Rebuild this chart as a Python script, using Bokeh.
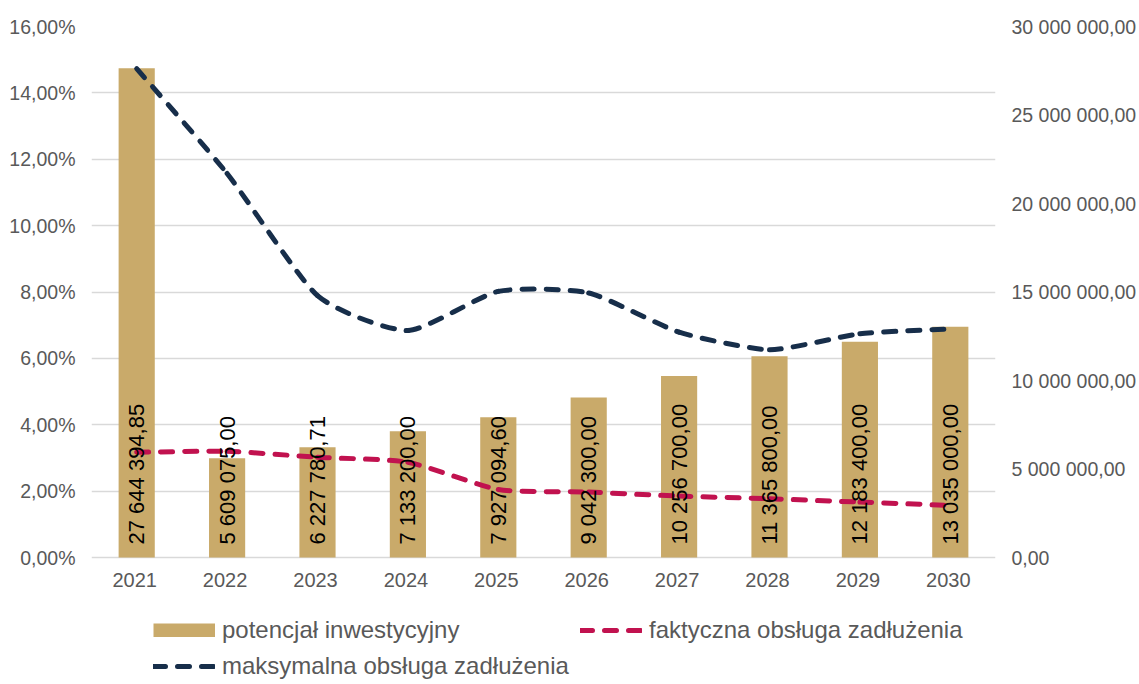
import numpy as np
from bokeh.plotting import figure
from bokeh.models import (Range1d, LinearAxis, FixedTicker, Legend, LegendItem,
                          ColumnDataSource, FactorRange)
from bokeh.core.properties import value
from bokeh.embed import file_html
from bokeh.resources import INLINE

# ---------------- data ----------------
years = ["2021", "2022", "2023", "2024", "2025", "2026", "2027", "2028", "2029", "2030"]
potencjal = [27644394.85, 5609075.00, 6227780.71, 7133200.00, 7927094.60,
             9042300.00, 10256700.00, 11365800.00, 12183400.00, 13035000.00]
faktyczna = [3.17, 3.20, 3.02, 2.87, 2.05, 1.97, 1.85, 1.77, 1.67, 1.57]
maksymalna = [14.73, 11.57, 7.89, 6.84, 8.02, 7.97, 6.79, 6.26, 6.74, 6.89]
pct_ticks = [0, 2, 4, 6, 8, 10, 12, 14, 16]
inv_ticks = [0, 5000000, 10000000, 15000000, 20000000, 25000000, 30000000]
names = ["potencjał inwestycyjny", "faktyczna obsługa zadłużenia",
         "maksymalna obsługa zadłużenia"]

# ---------------- style / layout ----------------
BAR = "#C9AA6A"
NAVY = "#172E4A"
CRIMSON = "#C1124F"
GRID = "#D9D9D9"
TXT = "#595959"
FONT = "Liberation Sans"
W, H = 1139, 684
TOP, BOTTOM_OF_AXIS = 26, 557          # pixel rows of the top and zero gridlines
EXTRA = (H - BOTTOM_OF_AXIS) / (BOTTOM_OF_AXIS - TOP)   # room below zero, as fraction


def pl_num(v):
    return f"{v:,.2f}".replace(",", " ").replace(".", ",")


pct_max = pct_ticks[-1]
inv_max = inv_ticks[-1]

p = figure(width=W, height=H, x_range=FactorRange(factors=years),
           y_range=Range1d(-pct_max * EXTRA, pct_max), output_backend="svg",
           toolbar_location=None, min_border_left=91, min_border_right=144,
           min_border_top=TOP, min_border_bottom=0, outline_line_color=None)
p.extra_y_ranges = {"inv": Range1d(-inv_max * EXTRA, inv_max)}
p.xaxis.visible = False

# left axis
ya = p.yaxis[0]
ya.ticker = FixedTicker(ticks=pct_ticks)
ya.major_label_overrides = {t: f"{t:.2f}".replace(".", ",") + "%" for t in pct_ticks}
# right axis
ra = LinearAxis(y_range_name="inv", ticker=FixedTicker(ticks=inv_ticks))
ra.major_label_overrides = {t: pl_num(t) for t in inv_ticks}
p.add_layout(ra, "right")

for ax, so in ((ya, 16), (ra, 16)):
    ax.axis_line_color = None
    ax.major_tick_line_color = None
    ax.minor_tick_line_color = None
    ax.major_tick_out = 0
    ax.major_tick_in = 0
    ax.minor_tick_out = 0
    ax.minor_tick_in = 0
    ax.major_label_text_font = FONT
    ax.major_label_text_font_size = "19.5px"
    ax.major_label_text_color = TXT
    ax.major_label_standoff = so

p.xgrid.visible = False
p.ygrid.grid_line_color = GRID
p.ygrid.grid_line_width = 1.5

# bars
src = ColumnDataSource(dict(x=years, top=potencjal,
                            lab=[pl_num(v) for v in potencjal]))
p.vbar(x="x", top="top", width=0.4, source=src, y_range_name="inv",
       fill_color=BAR, line_color=None)


# smoothed lines (Bezier segments through the data points)
def bez_source(vals, k=0.1):
    n = len(vals)
    P = np.column_stack([np.arange(n) + 0.5, np.asarray(vals, dtype=float)])
    d = dict(x0=[], y0=[], x1=[], y1=[], cx0=[], cy0=[], cx1=[], cy1=[])
    for i in range(n - 1):
        p0 = P[max(i - 1, 0)]
        p1 = P[i]
        p2 = P[i + 1]
        p3 = P[min(i + 2, n - 1)]
        c1 = p1 + (p2 - p0) * k
        c2 = p2 - (p3 - p1) * k
        d["x0"].append(p1[0]); d["y0"].append(p1[1])
        d["x1"].append(p2[0]); d["y1"].append(p2[1])
        d["cx0"].append(c1[0]); d["cy0"].append(c1[1])
        d["cx1"].append(c2[0]); d["cy1"].append(c2[1])
    return ColumnDataSource(d)


for vals, col in ((faktyczna, CRIMSON), (maksymalna, NAVY)):
    p.bezier(x0="x0", y0="y0", x1="x1", y1="y1", cx0="cx0", cy0="cy0",
             cx1="cx1", cy1="cy1", source=bez_source(vals), line_color=col,
             line_width=5, line_dash="12 12", line_cap="round")

# data labels
p.text(x="x", y=0, text="lab", source=src, y_range_name="inv", angle=np.pi / 2,
       text_align="left", text_baseline="middle", y_offset=-13,
       text_font=value(FONT), text_font_size="22px", text_color="black")

# category labels (x axis)
p.text(x="x", y=0, text="x", source=src, y_range_name="inv",
       text_align="center", text_baseline="middle", y_offset=22, x_offset=-2,
       text_font=value(FONT), text_font_size="20px", text_color=TXT)

# legend-only renderers (one invisible NaN point each so the legend draws them)
nan_src = ColumnDataSource(dict(x=[years[0]], y=np.array([np.nan])))
lg_bar = p.line(x="x", y="y", source=nan_src, line_color=BAR, line_width=14)
lg_f = p.line(x="x", y="y", source=nan_src, line_color=CRIMSON, line_width=5,
              line_dash="12 12", line_cap="round")
lg_m = p.line(x="x", y="y", source=nan_src, line_color=NAVY, line_width=5,
              line_dash="12 12", line_cap="round")

legend = Legend(items=[LegendItem(label=names[0], renderers=[lg_bar]),
                       LegendItem(label=names[1], renderers=[lg_f]),
                       LegendItem(label=names[2], renderers=[lg_m])],
                location=(62, 1), orientation="horizontal", ncols=2,
                label_text_font=FONT, label_text_font_size="24px",
                label_text_color=TXT, glyph_width=62, glyph_height=14,
                label_height=34, label_width=356, spacing=2, label_standoff=7,
                padding=0, margin=0, border_line_color=None,
                background_fill_alpha=0)
p.add_layout(legend)

open("out.html", "w").write(file_html(p, INLINE))
